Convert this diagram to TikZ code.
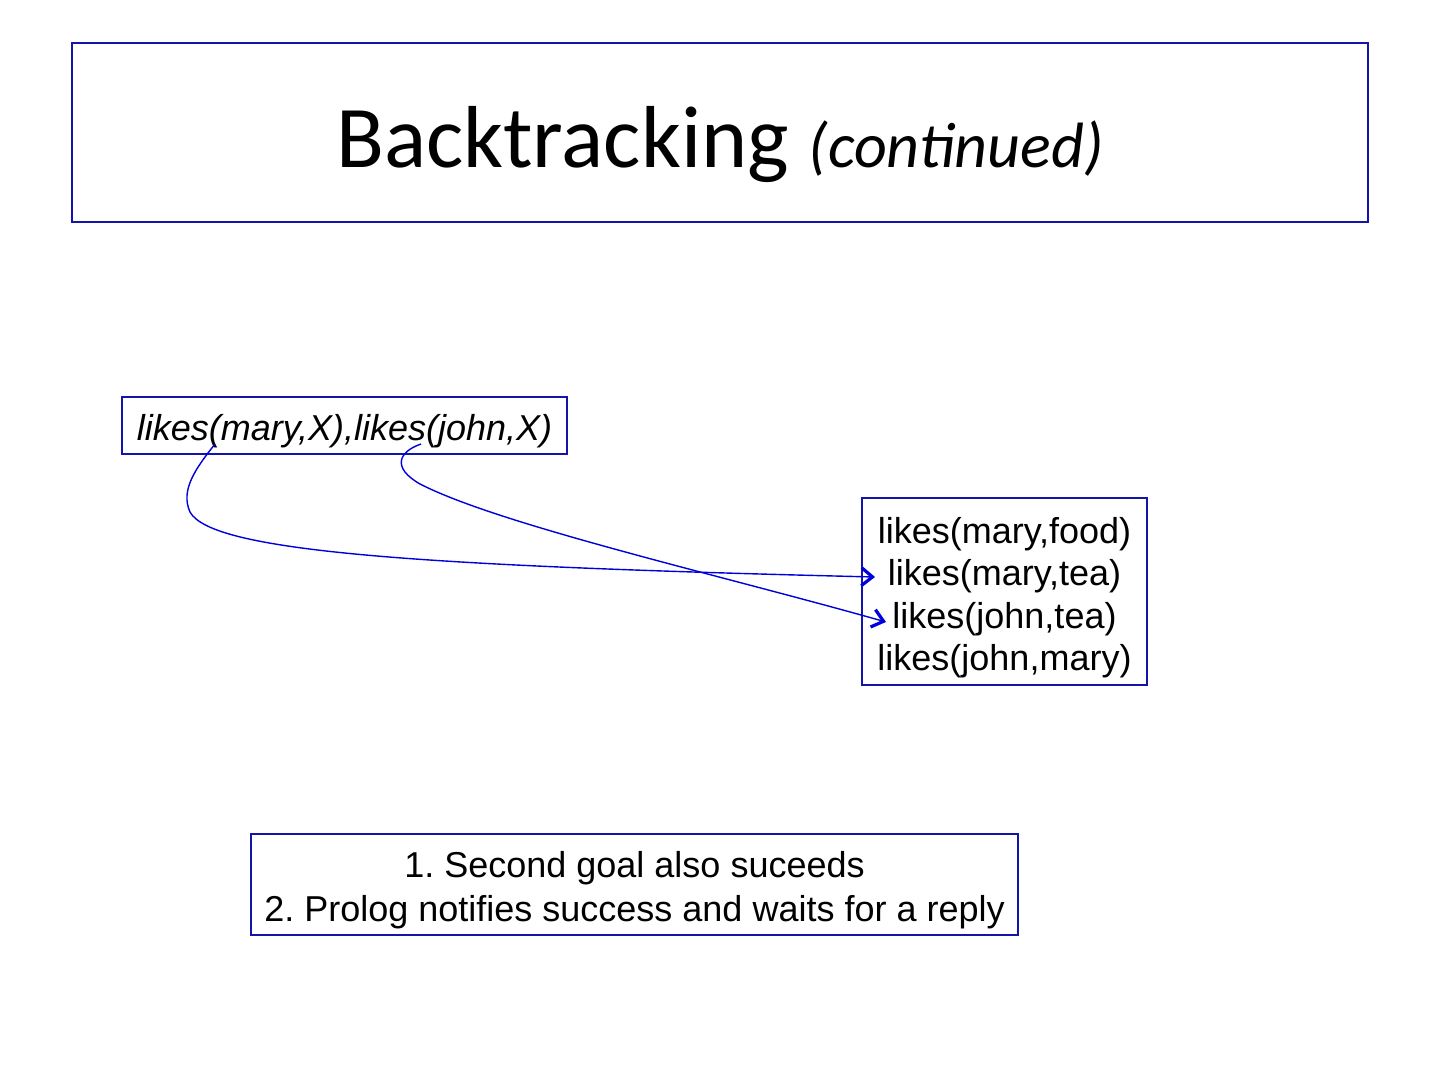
\documentclass[tikz,border=0pt]{standalone}
\usepackage{fontspec}
\setmainfont{Liberation Sans}
\newfontfamily\titlefont{Carlito}
\usetikzlibrary{arrows.meta}
\definecolor{boxblue}{RGB}{20,20,170}
\definecolor{arrblue}{RGB}{0,0,220}
\frenchspacing
\begin{document}
\begin{tikzpicture}[x=0.5pt,y=-0.5pt,
  framebox/.style={draw=boxblue,line width=0.75pt,inner sep=0pt,fill=white},
  boxtext/.style={inner sep=0pt,align=center,yshift=-3pt},
  link/.style={draw=arrblue,line width=0.7pt,-{Straight Barb[length=5.5pt,width=9pt,line width=1.6pt]}}]
\useasboundingbox[fill=white] (0,0) rectangle (1440,1080);
% title
\node[framebox,minimum width=648pt,minimum height=89.5pt] (title) at (720,132.5) {};
\node[anchor=base,inner sep=0pt] (titletext) at (720,168)
  {\titlefont\fontsize{44}{48}\selectfont Backtracking {\fontsize{32}{36}\selectfont\itshape(continued)}};
% query
\node[framebox,minimum width=222.5pt,minimum height=28.5pt] (goal) at (344.5,425.5) {};
\node[boxtext,font=\fontsize{18}{21.5}\selectfont\itshape] (goaltext) at (goal.center)
  {likes(mary,X),likes(john,X)};
% facts
\node[framebox,minimum width=142.5pt,minimum height=93.5pt] (facts) at (1004.5,591.5) {};
\node[boxtext,font=\fontsize{18}{21.25}\selectfont] (factstext) at (facts.center)
  {likes(mary,food)\\likes(mary,tea)\\likes(john,tea)\\likes(john,mary)};
% note
\node[framebox,minimum width=383.5pt,minimum height=50.5pt] (note) at (634.5,884.5) {};
\node[boxtext,font=\fontsize{18}{22}\selectfont] (notetext) at (note.center)
  {1. Second goal also suceeds\\2. Prolog notifies success and waits for a reply};
% anchors on the query and the facts
\coordinate (g1) at (215,444);
\coordinate (g2) at (421,444);
\coordinate (f1) at (875,577);
\coordinate (f2) at (886,622);
\draw[link] (g1) .. controls (196,468) and (180,490) .. (190,512)
  .. controls (212,552) and (420,566) .. (f1);
\draw[link] (g2) .. controls (398,452) and (392,468) .. (420,484)
  .. controls (500,525) and (720,575) .. (f2);
\end{tikzpicture}
\end{document}
